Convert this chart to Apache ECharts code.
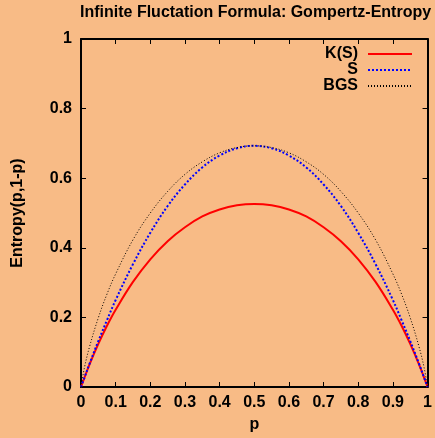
<!DOCTYPE html>
<html>
<head>
<meta charset="utf-8">
<script src="https://cdn.jsdelivr.net/npm/echarts@6/dist/echarts.min.js"></script>
<style>
  html, body { margin: 0; padding: 0; background: #f8bb86; }
  #main { width: 435px; height: 438px; }
</style>
</head>
<body>
<div id="main"></div>
<script>
// p values and the three curves
var pValues = [0, 0.01, 0.025, 0.05, 0.075, 0.1, 0.15, 0.2, 0.25, 0.3, 0.35, 0.4, 0.45, 0.5,
               0.55, 0.6, 0.65, 0.7, 0.75, 0.8, 0.85, 0.9, 0.925, 0.95, 0.975, 0.99, 1];
var kValues = [0, 0.027, 0.066, 0.124, 0.176, 0.222, 0.302, 0.367, 0.419, 0.459, 0.490, 0.510, 0.522, 0.526,
               0.522, 0.510, 0.490, 0.459, 0.419, 0.367, 0.302, 0.222, 0.176, 0.124, 0.066, 0.027, 0];
var sValues = [0, 0.027, 0.068, 0.132, 0.192, 0.250, 0.353, 0.443, 0.520, 0.582, 0.631, 0.665, 0.686, 0.693,
               0.686, 0.665, 0.631, 0.582, 0.520, 0.443, 0.353, 0.250, 0.192, 0.132, 0.068, 0.027, 0];
var bgsValues = [0, 0.056, 0.117, 0.199, 0.267, 0.325, 0.423, 0.500, 0.562, 0.611, 0.647, 0.673, 0.688, 0.693,
                 0.688, 0.673, 0.647, 0.611, 0.562, 0.500, 0.423, 0.325, 0.267, 0.199, 0.117, 0.056, 0];
var seriesNames = ['K(S)', 'S', 'BGS'];

function pairs(ys) {
    return pValues.map(function (p, i) { return [p, ys[i]]; });
}

var font = 'Liberation Sans, Arial, sans-serif';
var txt = { fontFamily: font, fontWeight: 'bold', fontSize: 16, color: '#000' };

var myChart = echarts.init(document.getElementById('main'), null, { renderer: 'canvas' });
var axisLine = { show: true, onZero: false, lineStyle: { color: '#000', width: 2 } };
var axisTick = { show: true, inside: true, length: 5, lineStyle: { color: '#000', width: 1 } };

var option = {
    backgroundColor: '#f8bb86',
    animation: false,
    title: {
        text: 'Infinite Fluctation Formula: Gompertz-Entropy',
        left: 80,
        top: 5,
        padding: 0,
        textStyle: txt
    },
    legend: {
        orient: 'vertical',
        right: 22,
        top: 46,
        padding: 0,
        align: 'right',
        itemWidth: 44,
        itemHeight: 10,
        itemGap: 0,
        data: seriesNames,
        itemStyle: { opacity: 0 },
        textStyle: { fontFamily: font, fontWeight: 'bold', fontSize: 16, color: '#000',
                     lineHeight: 16, padding: [0, 5, 0, 0] }
    },
    grid: { left: 81, right: 5, top: 39, bottom: 50.5 },
    xAxis: [{
        type: 'value', min: 0, max: 1, interval: 0.1,
        name: 'p', nameLocation: 'middle', nameGap: 30, nameTextStyle: txt,
        axisLine: axisLine, axisTick: axisTick, splitLine: { show: false },
        axisLabel: Object.assign({ margin: 8 }, txt)
    }, {
        type: 'value', min: 0, max: 1, interval: 0.1, position: 'top',
        axisLine: axisLine, axisTick: axisTick, splitLine: { show: false },
        axisLabel: { show: false }
    }],
    yAxis: [{
        type: 'value', min: 0, max: 1, interval: 0.2,
        name: 'Entropy(p,1-p)', nameLocation: 'middle', nameGap: 55, nameTextStyle: txt,
        axisLine: axisLine, axisTick: axisTick, splitLine: { show: false },
        axisLabel: Object.assign({ margin: 9 }, txt)
    }, {
        type: 'value', min: 0, max: 1, interval: 0.2, position: 'right',
        axisLine: axisLine, axisTick: axisTick, splitLine: { show: false },
        axisLabel: { show: false }
    }],
    series: [{
        name: 'K(S)', type: 'line', symbol: 'none', smooth: 0.4,
        data: pairs(kValues),
        itemStyle: { color: '#ff0000' },
        lineStyle: { color: '#ff0000', width: 2 }
    }, {
        name: 'S', type: 'line', symbol: 'none', smooth: 0.4,
        data: pairs(sValues),
        itemStyle: { color: '#0000ff' },
        lineStyle: { color: '#0000ff', width: 2, type: [2, 2] }
    }, {
        name: 'BGS', type: 'line', symbol: 'none', smooth: 0.4,
        data: pairs(bgsValues),
        itemStyle: { color: '#000' },
        lineStyle: { color: '#000', width: 1, type: [1, 2] }
    }]
};
myChart.setOption(option);
</script>
</body>
</html>
